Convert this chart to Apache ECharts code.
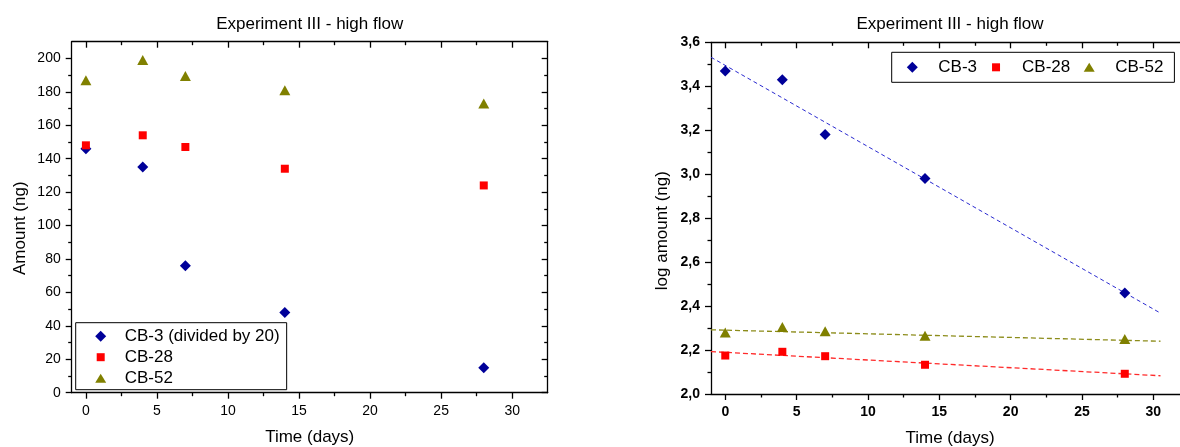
<!DOCTYPE html>
<html>
<head>
<meta charset="utf-8">
<script src="https://cdn.jsdelivr.net/npm/echarts@6/dist/echarts.min.js"></script>
<style>
  html, body { margin: 0; padding: 0; background: #ffffff; }
  #chart { width: 1180px; height: 447px; }
</style>
</head>
<body>
<div id="chart"></div>
<script>
// Sampling times (days)
const days = [0, 4, 7, 14, 28];

// Amounts (ng); CB-3 is shown divided by 20
const amountCB3 = [146, 135, 76, 48, 15];
const amountCB28 = [148, 154, 147, 134, 124];
const amountCB52 = [187, 199, 189.5, 181, 173];

// log10 of amounts (ng)
const logCB3 = [3.47, 3.43, 3.18, 2.98, 2.46];
const logCB28 = [2.175, 2.192, 2.172, 2.133, 2.092];
const logCB52 = [2.28, 2.305, 2.285, 2.265, 2.25];

// Linear fit lines of the log data, given by their two end points
const fitDays = [-1, 30.5];
const fitCB3 = [3.532, 2.368];
const fitCB28 = [2.193, 2.083];
const fitCB52 = [2.292, 2.240];

// Axis ranges and ticks
const dayRange = [-1, 32.5];
const dayMajor = [0, 5, 10, 15, 20, 25, 30];
const dayMinor = [2.5, 7.5, 12.5, 17.5, 22.5, 27.5];
const amountRange = [0, 210];
const amountMajor = [0, 20, 40, 60, 80, 100, 120, 140, 160, 180, 200];
const amountMinor = [10, 30, 50, 70, 90, 110, 130, 150, 170, 190];
const logRange = [2.0, 3.6];
const logMajor = [2.0, 2.2, 2.4, 2.6, 2.8, 3.0, 3.2, 3.4, 3.6];
const logMinor = [2.1, 2.3, 2.5, 2.7, 2.9, 3.1, 3.3, 3.5];

const FONT = "'Liberation Sans', Arial, Helvetica, sans-serif";
const INK = '#000000';
const NAVY = '#000099';
const RED = '#ff0000';
const OLIVE = '#808000';

const pair = (xs, ys) => xs.map((x, i) => [x, ys[i]]);
const commaFmt = v => v.toFixed(1).replace('.', ',');

// Four axes per dimension (major/minor on both sides) draw a closed frame
function makeAxes(dim, grid, range, major, minor, opts) {
  const [posA, posB] = dim === 'x' ? ['bottom', 'top'] : ['left', 'right'];
  const base = {
    type: 'value', gridIndex: grid, min: range[0], max: range[1],
    splitLine: { show: false }, minorTick: { show: false },
    axisLine: { show: false, onZero: false }, axisLabel: { show: false },
    axisTick: { show: false }, silent: true
  };
  const line = { show: true, onZero: false, lineStyle: { color: INK, width: 1.3 } };
  const tick = (vals, len, inside) => ({
    show: true, customValues: vals, length: len, inside: inside,
    lineStyle: { color: INK, width: 1.3 }
  });
  return [
    Object.assign({}, base, {
      position: posA, axisLine: line, axisTick: tick(major, 6, false),
      axisLabel: {
        show: true, customValues: major, margin: opts.labelMargin,
        color: INK, fontFamily: FONT, fontSize: 14,
        fontWeight: opts.bold ? 'bold' : 'normal',
        formatter: opts.formatter || (v => String(v))
      },
      name: opts.name, nameLocation: 'middle', nameGap: opts.nameGap,
      nameTextStyle: {
        color: INK, fontFamily: FONT, fontSize: 17,
        padding: opts.namePadding || 0
      }
    }),
    Object.assign({}, base, { position: posA, axisTick: tick(minor, 3.5, false) }),
    Object.assign({}, base, { position: posB, axisLine: line, axisTick: tick(major, 6, true) }),
    Object.assign({}, base, { position: posB, axisTick: tick(minor, 3.5, true) })
  ];
}

const xAxis = [].concat(
  makeAxes('x', 0, dayRange, dayMajor, dayMinor,
    { name: 'Time (days)', nameGap: 36, labelMargin: 11 }),
  makeAxes('x', 1, dayRange, dayMajor, dayMinor,
    { name: 'Time (days)', nameGap: 36, labelMargin: 11, bold: true })
);
const yAxis = [].concat(
  makeAxes('y', 0, amountRange, amountMajor, amountMinor,
    { name: 'Amount (ng)', nameGap: 43, labelMargin: 11, namePadding: [0, 22, 0, 0] }),
  makeAxes('y', 1, logRange, logMajor, logMinor,
    { name: 'log amount (ng)', nameGap: 40, labelMargin: 11, bold: true,
      formatter: commaFmt, namePadding: [0, 25, 0, 0] })
);

function scatter(name, color, symbol, size, data, axisSet) {
  return {
    type: 'scatter', name: name, data: data,
    xAxisIndex: axisSet * 4, yAxisIndex: axisSet * 4,
    symbol: symbol, symbolSize: size,
    itemStyle: { color: color, opacity: 1 }, z: 5, silent: true
  };
}
function fitLine(name, color, width, dash, ys) {
  return {
    type: 'line', name: name, data: pair(fitDays, ys),
    xAxisIndex: 4, yAxisIndex: 4, symbol: 'none', showSymbol: false,
    lineStyle: { color: color, width: width, type: dash }, z: 3, silent: true,
    clip: true
  };
}

// Legend icons: the leading move-to points fix a 12x12 box so marks keep their relative sizes
const ICON_DIAMOND = 'path://M0,0M12,12M6,0.5L11.5,6L6,11.5L0.5,6Z';
const ICON_SQUARE = 'path://M0,0M12,12M2,2L10,2L10,10L2,10Z';
const ICON_TRIANGLE = 'path://M0,0M12,12M6,1.5L11.5,10.5L0.5,10.5Z';

const legendText = (gapLeft) => ({
  color: INK, fontFamily: FONT, fontSize: 17, padding: [0, 0, 0, gapLeft]
});

const option = {
  backgroundColor: '#ffffff',
  animation: false,
  title: [
    { text: 'Experiment III - high flow', left: 309.7, top: 16, textAlign: 'center',
      padding: 0,
      textStyle: { color: INK, fontFamily: FONT, fontSize: 17, fontWeight: 'normal' } },
    { text: 'Experiment III - high flow', left: 950, top: 16, textAlign: 'center',
      padding: 0,
      textStyle: { color: INK, fontFamily: FONT, fontSize: 17, fontWeight: 'normal' } }
  ],
  grid: [
    { left: 71.7, top: 41.7, width: 476, height: 351, containLabel: false, outerBoundsMode: 'none' },
    { left: 711, top: 42.3, width: 478, height: 351.7, containLabel: false, outerBoundsMode: 'none' }
  ],
  legend: [
    {
      orient: 'vertical', left: 75.7, top: 322.7,
      padding: [5, 7, 3, 19], itemGap: 4, itemWidth: 12, itemHeight: 12,
      borderColor: INK, borderWidth: 1, backgroundColor: '#ffffff',
      selectedMode: false, textStyle: legendText(13),
      data: [
        { name: 'CB-3 (divided by 20)', icon: ICON_DIAMOND },
        { name: 'CB-28', icon: ICON_SQUARE },
        { name: 'CB-52', icon: ICON_TRIANGLE }
      ]
    },
    {
      orient: 'horizontal', left: 891.7, top: 52.3,
      padding: [6.5, 11, 6.5, 14.6], itemGap: 13, itemWidth: 12, itemHeight: 12,
      borderColor: INK, borderWidth: 1, backgroundColor: '#ffffff',
      selectedMode: false, textStyle: legendText(15),
      data: [
        { name: 'CB-3', icon: ICON_DIAMOND },
        { name: 'CB-28', icon: ICON_SQUARE },
        { name: 'CB-52', icon: ICON_TRIANGLE }
      ]
    }
  ],
  xAxis: xAxis,
  yAxis: yAxis,
  series: [
    scatter('CB-3 (divided by 20)', NAVY, 'diamond', [11, 11], pair(days, amountCB3), 0),
    scatter('CB-28', RED, 'rect', [8, 8], pair(days, amountCB28), 0),
    scatter('CB-52', OLIVE, 'triangle', [11, 10], pair(days, amountCB52), 0),
    fitLine('CB-3 fit', '#2a2ad0', 1, [4, 3], fitCB3),
    fitLine('CB-28 fit', '#ff2a2a', 1.3, [5, 3], fitCB28),
    fitLine('CB-52 fit', '#8c8c1a', 1.3, [5, 3], fitCB52),
    scatter('CB-3', NAVY, 'diamond', [11, 11], pair(days, logCB3), 1),
    scatter('CB-28', RED, 'rect', [8, 8], pair(days, logCB28), 1),
    scatter('CB-52', OLIVE, 'triangle', [11, 10], pair(days, logCB52), 1)
  ]
};

const chart = echarts.init(document.getElementById('chart'), null, { renderer: 'canvas' });
chart.setOption(option);
</script>
</body>
</html>
